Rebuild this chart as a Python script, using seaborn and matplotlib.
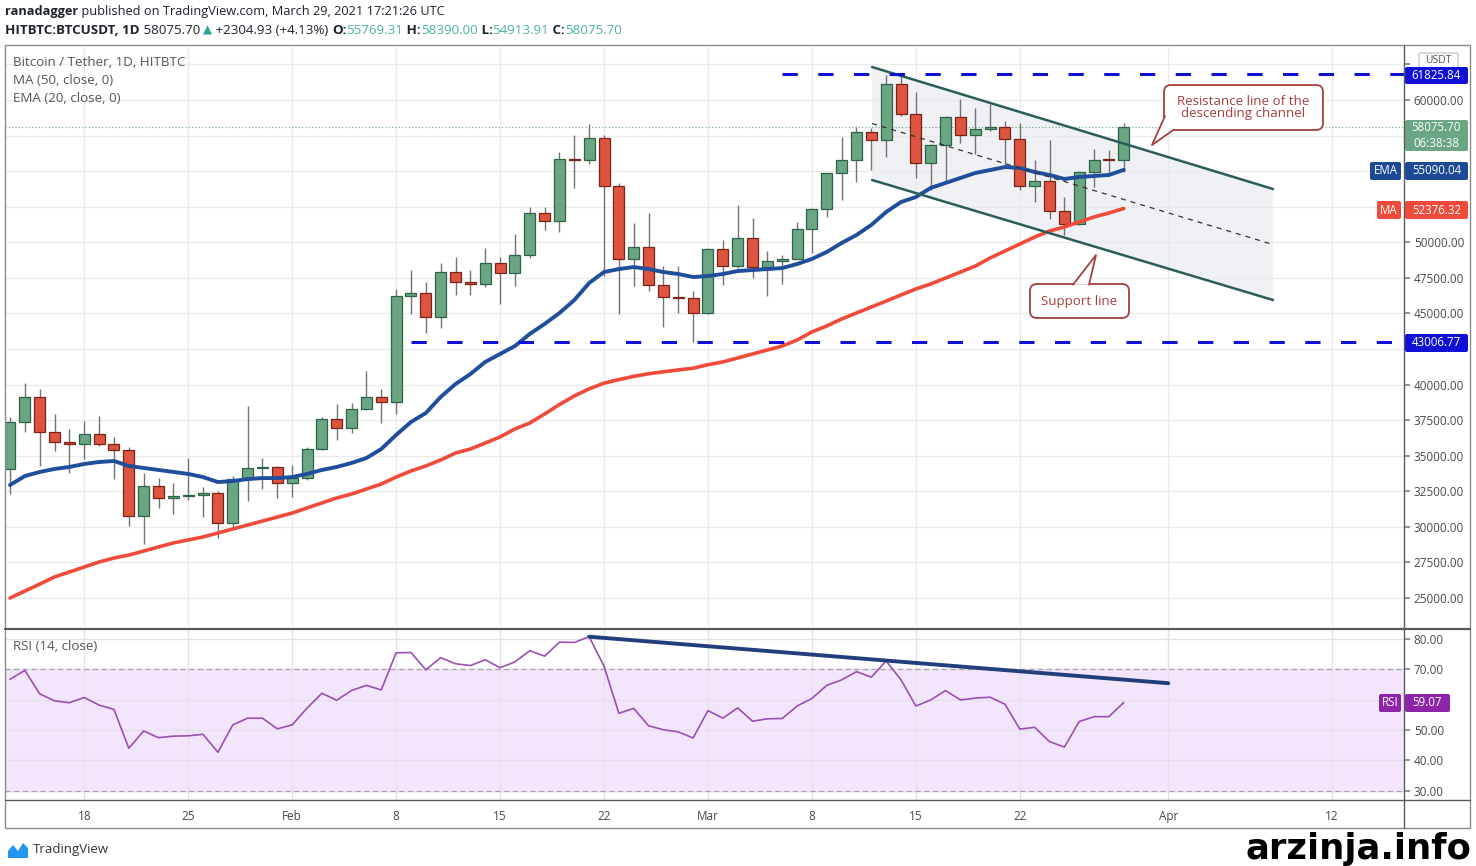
import numpy as np
import pandas as pd
import matplotlib.pyplot as plt
import seaborn as sns
from matplotlib.patches import FancyBboxPatch, Polygon, Rectangle

# Dados: BTC/USDT diário (HitBTC), 13 jan .. 29 mar 2021
start = pd.Timestamp('2021-01-13')
dates = pd.date_range(start, '2021-03-29', freq='D')

opens = [34070, 37370, 39130, 36670, 35970, 35830, 36530, 35830, 35400, 30760,
         32880, 32030, 32170, 32240, 32380, 30270, 33360, 34140, 34210, 33080,
         33430, 35470, 37580, 36950, 38290, 39130, 38780, 46230, 46440, 44750,
         47910, 47210, 47070, 48550, 47840, 49100, 52060, 51500, 55850, 55780,
         57330, 53960, 48830, 49670, 47000, 46160, 46090, 45030, 49530, 48340,
         50300, 48270, 48690, 48830, 50930, 52340, 54870, 55780, 57750, 57190,
         61120, 59020, 55570, 56840, 58810, 57540, 57960, 58100, 57260, 53960,
         54310, 52200, 51290, 54940, 55780, 55769.31]
highs = [37720, 40110, 39690, 37930, 36880, 37440, 37790, 36320, 35610, 33790,
         33430, 33080, 34840, 32800, 32520, 33570, 38500, 34840, 34280, 34350,
         35600, 37700, 38640, 38700, 40950, 39680, 46700, 48050, 47210, 48550,
         48970, 48050, 49590, 48970, 50580, 52480, 52480, 56350, 57540, 58310,
         57540, 54200, 51360, 52060, 48340, 48340, 46580, 49600, 50160, 52620,
         51710, 49390, 49110, 51400, 52400, 54900, 57400, 58100, 58030, 61760,
         61760, 60560, 56900, 58850, 60070, 59440, 59720, 58520, 58380, 55780,
         57190, 53180, 55000, 56560, 56490, 58390.00]
lows = [32310, 36670, 34280, 35330, 33790, 34770, 35700, 33360, 30060, 28800,
        31330, 30900, 31890, 30690, 29220, 29940, 31820, 32660, 32030, 32100,
        33300, 35400, 36100, 36600, 38200, 37300, 37930, 44960, 43630, 43990,
        46300, 46300, 46880, 45660, 46930, 48900, 50860, 50720, 53820, 55500,
        47600, 44960, 46930, 46580, 44050, 45030, 43000, 44960, 47000, 48200,
        47490, 46230, 47100, 48830, 49250, 51780, 52970, 54240, 55070, 55990,
        58900, 54520, 53680, 54170, 57000, 56200, 57800, 55430, 53680, 52830,
        51640, 50510, 51200, 53890, 54870, 54913.91]
closes = [37370, 39130, 36670, 35970, 35830, 36530, 35830, 35400, 30760, 32880,
          32030, 32170, 32240, 32380, 30270, 33360, 34140, 34210, 33080, 33430,
          35470, 37580, 36950, 38290, 39130, 38780, 46230, 46440, 44750, 47910,
          47210, 47070, 48550, 47840, 49100, 52060, 51500, 55850, 55780, 57330,
          53960, 48830, 49670, 47000, 46160, 46090, 45030, 49530, 48340, 50300,
          48270, 48690, 48830, 50930, 52340, 54870, 55780, 57750, 57190, 61120,
          59020, 55570, 56840, 58810, 57540, 57960, 58100, 57260, 53960, 54310,
          52200, 51290, 54940, 55780, 55769.31, 58075.70]
ema20 = [32943, 33570, 33860, 34070, 34210, 34420, 34560, 34630, 34280, 34140,
         34000, 33860, 33720, 33500, 33150, 33220, 33360, 33430, 33430, 33500,
         33720, 34000, 34210, 34490, 34840, 35470, 36460, 37370, 38000, 39130,
         40040, 40740, 41590, 42150, 42710, 43560, 44260, 45030, 45940, 47140,
         47910, 48120, 48260, 48120, 47910, 47770, 47560, 47630, 47770, 47980,
         48050, 48120, 48190, 48470, 48830, 49320, 49950, 50510, 51220, 52130,
         52830, 53180, 53820, 54170, 54520, 54870, 55080, 55290, 55220, 54940,
         54730, 54450, 54590, 54660, 54730, 55090.04]
ma50 = [25000, 25490, 25980, 26480, 26830, 27180, 27530, 27810, 28020, 28300,
        28590, 28870, 29080, 29290, 29570, 29850, 30130, 30410, 30690, 30970,
        31330, 31680, 32030, 32310, 32660, 33010, 33500, 33930, 34280, 34700,
        35190, 35470, 35890, 36320, 36880, 37300, 37930, 38600, 39200, 39700,
        40100, 40350, 40580, 40760, 40900, 41030, 41150, 41400, 41590, 41870,
        42150, 42430, 42710, 43130, 43700, 44120, 44610, 45030, 45450, 45870,
        46300, 46720, 47070, 47490, 47910, 48330, 48900, 49390, 49880, 50370,
        50790, 51080, 51430, 51780, 52060, 52376.32]
rsi14 = [66.7, 69.6, 61.9, 59.6, 59.0, 60.7, 58.2, 56.8, 44.0, 49.7,
         47.5, 48.0, 48.1, 48.6, 42.7, 51.7, 53.9, 53.9, 50.4, 51.7,
         57.2, 62.1, 59.8, 63.0, 64.7, 63.2, 75.4, 75.5, 69.8, 73.8,
         71.8, 71.2, 73.1, 70.5, 72.4, 76.1, 74.3, 78.9, 78.8, 80.7,
         71.0, 55.5, 57.1, 51.4, 50.1, 49.4, 47.4, 56.4, 53.9, 57.3,
         52.9, 53.7, 53.8, 57.9, 60.4, 64.7, 66.5, 69.2, 67.4, 72.7,
         66.5, 57.9, 59.9, 63.0, 59.9, 60.5, 60.8, 58.5, 50.3, 50.9,
         46.2, 44.4, 52.8, 54.4, 54.4, 59.07]

# linhas desenhadas pelo autor
resistance = 61825.84
support = 43006.77
resistance_from = pd.Timestamp('2021-03-06')
support_from = pd.Timestamp('2021-02-09')
channel_days = [58.05, 85.05]
channel_upper = [62319, 53745]
channel_lower = [54378, 45944]
rsi_trend_days = [39, 78]
rsi_trend_vals = [80.7, 65.4]

tick_dates = pd.to_datetime(['2021-01-18', '2021-01-25', '2021-02-01', '2021-02-08',
                             '2021-02-15', '2021-02-22', '2021-03-01', '2021-03-08',
                             '2021-03-15', '2021-03-22', '2021-04-01', '2021-04-12'])
tick_labels = ['18', '25', 'Feb', '8', '15', '22', 'Mar', '8', '15', '22', 'Apr', '12']
price_ticks = np.arange(25000, 62501, 2500)
hidden_price_ticks = [42500, 52500, 55000, 57500, 62500]  # ficam atrás das etiquetas

df = pd.DataFrame({'day': (dates - start).days, 'open': opens, 'high': highs,
                   'low': lows, 'close': closes, 'ema': ema20, 'ma': ma50, 'rsi': rsi14})
tick_days = (tick_dates - start).days

# cores
GREEN, RED = '#6aa584', '#dd5440'
GREEN_E, RED_E = '#2c6447', '#7a2418'
EMA_C, MA_C = '#1f4e9c', '#f04a3a'
LVL_C = '#0f0fd6'
TEXT = '#4a4a4a'

sns.set_theme(style='white')
plt.rcParams['font.family'] = ['Open Sans', 'DejaVu Sans']

W, H = 1476, 866
fig = plt.figure(figsize=(W / 100, H / 100), dpi=100)


def box(l, t, r, b):
    return [l / W, 1 - b / H, (r - l) / W, (b - t) / H]


ax = fig.add_axes(box(5, 47, 1404, 627))
ax_rsi = fig.add_axes(box(5, 630, 1404, 800))

x_lim = (-0.337, 93.87)

# ---------------- painel de preço ----------------
ax.set_xlim(x_lim)
ax.set_ylim(22963, 63725)
ax.set_xticks(tick_days)
ax.set_yticks(price_ticks)
ax.set_yticklabels(['' if v in hidden_price_ticks else f'{v:.2f}' for v in price_ticks])
ax.grid(True, color='#ebebeb', lw=1)
ax.yaxis.tick_right()
ax.tick_params(axis='y', right=True, length=4, color='#888', labelsize=8.5,
               labelcolor=TEXT, pad=3)
ax.tick_params(axis='x', bottom=False, labelbottom=False)
for s in ax.spines.values():
    s.set_visible(False)

# canal descendente
ax.add_patch(Polygon([(channel_days[0], channel_upper[0]), (channel_days[1], channel_upper[1]),
                      (channel_days[1], channel_lower[1]), (channel_days[0], channel_lower[0])],
                     closed=True, fc='#e6e9ee', ec='none', alpha=0.6, zorder=1))

# velas
up = df['close'] >= df['open']
ax.vlines(df['day'], df['low'], df['high'], color='#737375', lw=1, zorder=2)
body = (df['close'] - df['open']).abs().clip(lower=70)
bottom = df[['open', 'close']].min(axis=1)
ax.bar(df['day'][up], body[up], bottom=bottom[up], width=0.74, color=GREEN,
       edgecolor=GREEN_E, linewidth=0.9, zorder=3)
ax.bar(df['day'][~up], body[~up], bottom=bottom[~up], width=0.74, color=RED,
       edgecolor=RED_E, linewidth=0.9, zorder=3)

sns.lineplot(data=df, x='day', y='ema', ax=ax, color=EMA_C, linewidth=2.8, zorder=4)
sns.lineplot(data=df, x='day', y='ma', ax=ax, color=MA_C, linewidth=2.6, zorder=4)

ax.plot(channel_days, channel_upper, color='#2a5e5a', lw=1.8, zorder=5)
ax.plot(channel_days, channel_lower, color='#2a5e5a', lw=1.8, zorder=5)
ax.plot(channel_days, [(a + b) / 2 for a, b in zip(channel_upper, channel_lower)],
        color='#333', lw=0.9, ls=(0, (4, 4)), zorder=5)

r0 = (resistance_from - start).days
s0 = (support_from - start).days
ax.plot([r0, x_lim[1]], [resistance] * 2, color=LVL_C, lw=2.2, ls=(0, (5, 6.7)), zorder=5)
ax.plot([s0, x_lim[1]], [support] * 2, color=LVL_C, lw=2.2, ls=(0, (5, 6.7)), zorder=5)
ax.axhline(closes[-1], color=GREEN, lw=0.8, ls=(0, (1, 2)), zorder=1)
ax.set_xlabel('')
ax.set_ylabel('')

# ---------------- painel RSI ----------------
ax_rsi.set_xlim(x_lim)
ax_rsi.set_ylim(27.0, 82.9)
ax_rsi.axhspan(30, 70, color='#f2e5fc', zorder=0)
ax_rsi.set_xticks(tick_days)
ax_rsi.set_xticklabels(tick_labels)
ax_rsi.set_yticks([30, 40, 50, 60, 70, 80])
ax_rsi.set_yticklabels([f'{v:.2f}' for v in [30, 40, 50, 60, 70, 80]])
ax_rsi.grid(True, color='#e4e0e8', lw=1)
ax_rsi.yaxis.tick_right()
ax_rsi.tick_params(axis='y', right=True, length=4, color='#888', labelsize=8.5,
                   labelcolor=TEXT, pad=3)
ax_rsi.tick_params(axis='x', bottom=False, labelsize=8.5, labelcolor=TEXT, pad=1)
for s in ax_rsi.spines.values():
    s.set_visible(False)
for lv in (30, 70):
    ax_rsi.axhline(lv, color='#aaa0b2', lw=0.9, ls=(0, (4, 3)), zorder=1)
sns.lineplot(data=df, x='day', y='rsi', ax=ax_rsi, color='#9b4fb4', linewidth=1.2, zorder=3)
sns.lineplot(x=rsi_trend_days, y=rsi_trend_vals, ax=ax_rsi, color='#223f7c',
             linewidth=2.8, zorder=4)
ax_rsi.set_xlabel('')
ax_rsi.set_ylabel('')

# ---------------- camada de textos (pixels) ----------------
ov = fig.add_axes([0, 0, 1, 1])
ov.set_xlim(0, W)
ov.set_ylim(H, 0)
ov.set_axis_off()
ov.set_zorder(10)

# moldura
ov.add_patch(Rectangle((5, 45), 1465, 783, fc='none', ec='#8c8c8c', lw=1))
ov.plot([5, 1470], [628.5, 628.5], color='#5a5a5a', lw=1.6)
ov.plot([5, 1470], [800, 800], color='#5a5a5a', lw=1)
ov.plot([1404, 1404], [45, 828], color='#5a5a5a', lw=1)


def run(pieces, x, y):
    s, kw = pieces[0]
    t = ov.text(x, y, s, va='center', ha='left', **kw)
    for s, kw in pieces[1:]:
        t = ov.annotate(s, xy=(1, 0.5), xycoords=t, va='center', ha='left', **kw)


hdr = dict(fontsize=9.2, color='#1e222d')
bold = dict(fontsize=9.2, color='#1e222d', fontweight='bold')
run([('ranadagger', bold),
     (' published on TradingView.com, March 29, 2021 17:21:26 UTC', hdr)], 5, 12)
hdr2 = dict(fontsize=9.6, color='#1e222d')
bold2 = dict(fontsize=9.6, color='#1e222d', fontweight='bold')
teal = dict(fontsize=9.6, color='#4db2a3')
run([('HITBTC:BTCUSDT, 1D', bold2), (' 58075.70 ', hdr2),
     ('▲', dict(fontsize=8.5, color='#26a69a', family='DejaVu Sans')),
     (' +2304.93 (+4.13%) ', hdr2), ('O:', bold2), ('55769.31', teal),
     (' H:', bold2), ('58390.00', teal), (' L:', bold2), ('54913.91', teal),
     (' C:', bold2), ('58075.70', teal)], 5, 30)

leg = dict(fontsize=9.6, color='#555', va='center')
ov.text(13, 62, 'Bitcoin / Tether, 1D, HITBTC', **leg)
ov.text(13, 80, 'MA (50, close, 0)', **leg)
ov.text(13, 99, 'EMA (20, close, 0)', **leg)
ov.text(13, 646, 'RSI (14, close)', **leg)


def tag(x0, x1, y0, y1, fc, lines, ec='none', color='white', fs=8.3):
    ov.add_patch(FancyBboxPatch((x0, y0), x1 - x0, y1 - y0,
                                boxstyle='round,pad=0,rounding_size=2',
                                fc=fc, ec=ec, lw=0.8))
    n = len(lines)
    for i, s in enumerate(lines):
        yy = y0 + (y1 - y0) * (i + 0.5) / n
        ov.text((x0 + x1) / 2, yy, s, ha='center', va='center', fontsize=fs, color=color)


tag(1419, 1458, 53, 68, 'white', ['USDT'], ec='#bbbbbb', color='#555', fs=7.5)
tag(1405, 1468, 67, 84, LVL_C, [f'{resistance:.2f}'])
tag(1405, 1468, 120, 151, GREEN, [f'{closes[-1]:.2f}', '06:38:38'])
tag(1370, 1401, 162, 180, '#1c4a96', ['EMA'])
tag(1405, 1468, 162, 180, '#1c4a96', [f'{ema20[-1]:.2f}'])
tag(1377, 1401, 201, 219, MA_C, ['MA'])
tag(1405, 1468, 201, 219, MA_C, [f'{ma50[-1]:.2f}'])
tag(1405, 1468, 334, 352, LVL_C, [f'{support:.2f}'])
tag(1379, 1401, 694, 712, '#8e24aa', ['RSI'])
tag(1405, 1450, 694, 712, '#8e24aa', [f'{rsi14[-1]:.2f}'])

# balões de anotação
CALL = '#a5403e'


def callout(x0, x1, y0, y1, tail, text):
    ov.add_patch(FancyBboxPatch((x0, y0), x1 - x0, y1 - y0,
                                boxstyle='round,pad=0,rounding_size=7',
                                fc='white', ec=CALL, lw=1.3))
    (ax_, ay_), tip, (bx_, by_) = tail
    ov.add_patch(Polygon([(ax_, ay_), tip, (bx_, by_)], closed=True, fc='white', ec='none', zorder=3))
    ov.plot([ax_, tip[0], bx_], [ay_, tip[1], by_], color=CALL, lw=1.3, zorder=4)
    ov.text((x0 + x1) / 2, (y0 + y1) / 2, text, ha='center', va='center', fontsize=9.6,
            color=CALL, linespacing=0.9, zorder=5)


callout(1164, 1323, 85, 130, [(1165, 116), (1152, 145), (1174, 129.5)],
        'Resistance line of the\ndescending channel')
callout(1030, 1129, 284, 318, [(1073, 284.7), (1096, 255), (1089, 284.7)], 'Support line')

# rodapé
ov.add_patch(Polygon([(8, 858), (8, 851), (13, 845), (18, 851), (23, 843), (28, 848), (28, 858)],
                     closed=True, fc='#2196f3', ec='none'))
ov.text(33, 850, 'TradingView', fontsize=9.5, color='#333', va='center')
ov.text(1471, 849, 'arzinja.info', fontsize=25.5, fontweight='bold', color='black',
        ha='right', va='center', family=['Liberation Sans Narrow', 'DejaVu Sans'])

fig.savefig('out.png', dpi=100)
